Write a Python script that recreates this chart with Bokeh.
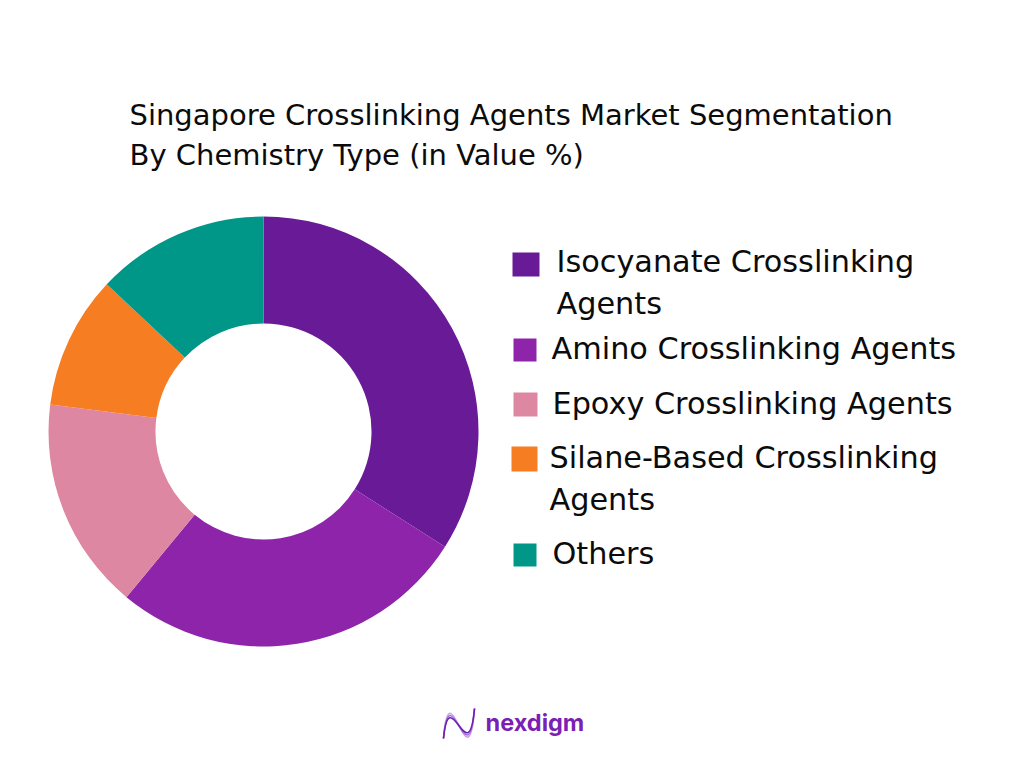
from math import pi

from bokeh.core.properties import value
from bokeh.embed import file_html
from bokeh.models import ColumnDataSource, Range1d
from bokeh.plotting import figure
from bokeh.resources import INLINE

# data
segments = ["Isocyanate Crosslinking Agents", "Amino Crosslinking Agents", "Epoxy Crosslinking Agents",
            "Silane-Based Crosslinking Agents", "Others"]
shares = [34, 27, 16, 10, 13]
colors = ["#691b97", "#8e24aa", "#de87a2", "#f77d22", "#009688"]

title_lines = ["Singapore Crosslinking Agents Market Segmentation", "By Chemistry Type (in Value %)"]

# legend layout, in page pixels
swatch_left = [512, 513, 513, 511, 513]
swatch_right = [539, 536, 537, 537, 536]
swatch_top = [252, 338, 392, 446, 543]
swatch_bottom = [276, 361, 416, 471, 566]
label_lines = [("Isocyanate Crosslinking", 556, 271), ("Agents", 556, 313), ("Amino Crosslinking Agents", 551, 358),
               ("Epoxy Crosslinking Agents", 552, 413), ("Silane-Based Crosslinking", 549, 467),
               ("Agents", 549, 509), ("Others", 552, 563)]

FONT = "DejaVu Sans"
INK = "#0b0b0b"
TEXT_SHIFT = 10  # alphabetic baseline lands this far below the asked y
H = 752


def flip(py):
    return H - py


def flip_text(py):
    return H - py + TEXT_SHIFT


p = figure(width=1008, height=752, output_backend="svg", toolbar_location=None,
           x_range=Range1d(0, 1008), y_range=Range1d(0, 752), x_axis_type=None, y_axis_type=None,
           min_border=0, outline_line_color=None, background_fill_color="white")
p.grid.visible = False

# donut, clockwise from 12 o'clock
starts, ends = [], []
total = sum(shares)
run = 0
for s in shares:
    starts.append(pi / 2 - run / total * 2 * pi)
    run += s
    ends.append(pi / 2 - run / total * 2 * pi)
donut = ColumnDataSource(dict(start=starts, end=ends, color=colors))
p.annular_wedge(x=263, y=flip(431), inner_radius=108, outer_radius=215, start_angle="start", end_angle="end",
                direction="clock", color="color", line_color=None, source=donut)

# legend
p.quad(left=swatch_left, right=swatch_right, top=[flip(v) for v in swatch_top],
       bottom=[flip(v) for v in swatch_bottom], fill_color=colors, line_color=None)
p.text(x=[t[1] for t in label_lines], y=[flip_text(t[2]) for t in label_lines], text=[t[0] for t in label_lines],
       text_font=value(FONT), text_font_size="30.3px", text_color=INK, text_baseline="alphabetic")

# title
p.text(x=[129, 129], y=[flip_text(124), flip_text(164)], text=title_lines, text_font=value(FONT),
       text_font_size="29px", text_color=INK, text_baseline="alphabetic")

# logo
wave_colors = ["#c9a6e6", "#a66fd6", "#6a1fb5"]
for c, bend in zip(wave_colors, [0, 8, 16]):
    p.bezier(x0=[443], y0=[flip(738)], x1=[474], y1=[flip(708)], cx0=[449], cy0=[flip(662 + bend)],
             cx1=[468], cy1=[flip(790 - bend)], line_color=c, line_width=1.6)
p.text(x=[485], y=[flip_text(732)], text=["nexdigm"], text_font=value("Inter"), text_font_size="23.5px",
       text_font_style="bold", text_color="#7b1fb5", text_baseline="alphabetic")

open("out.html", "w").write(file_html(p, INLINE))
